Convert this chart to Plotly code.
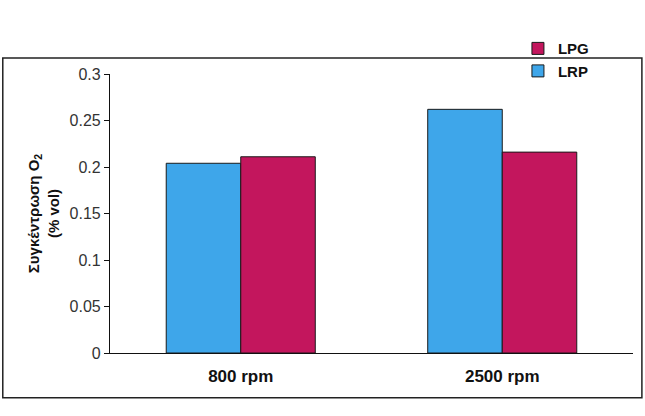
import plotly.graph_objects as go

categories = ["800 rpm", "2500 rpm"]
lrp_values = [0.204, 0.262]
lpg_values = [0.211, 0.216]
y_ticks = [0, 0.05, 0.1, 0.15, 0.2, 0.25, 0.3]
y_tick_text = ["0", "0.05", "0.1", "0.15", "0.2", "0.25", "0.3"]

LRP_COLOR = "#3ea6ea"
LPG_COLOR = "#c3165d"

fig = go.Figure()
fig.add_trace(go.Bar(
    x=categories, y=lrp_values, name="<b>LRP</b>",
    marker=dict(color=LRP_COLOR, line=dict(color="#1a1a1a", width=1)),
))
fig.add_trace(go.Bar(
    x=categories, y=lpg_values, name="<b>LPG</b>",
    marker=dict(color=LPG_COLOR, line=dict(color="#1a1a1a", width=1)),
))

# outer frame around the chart
fig.add_shape(type="rect", xref="paper", yref="paper",
              x0=-0.205, x1=1.017, y0=-0.16, y1=1.057,
              line=dict(color="#222", width=1.5), layer="below")

fig.update_layout(
    width=645, height=416,
    margin=dict(l=110, r=12, t=74, b=63),
    paper_bgcolor="white", plot_bgcolor="white",
    barmode="group", bargap=0.43, bargroupgap=0,
    font=dict(family="Arial, Liberation Sans, sans-serif", color="#222"),
    legend=dict(
        x=0.78, y=1.15, xanchor="left", yanchor="top",
        traceorder="reversed",
        font=dict(size=15, color="#111", family="Arial, Liberation Sans, sans-serif"),
        bgcolor="rgba(0,0,0,0)", itemwidth=30, tracegroupgap=0,
    ),
    showlegend=True,
)
fig.update_xaxes(
    showline=True, linecolor="#111", linewidth=1.2,
    ticks="", showgrid=False,
    tickvals=categories,
    ticktext=["<b>" + c + "</b>" for c in categories],
    tickfont=dict(size=17, color="#111", family="Arial, Liberation Sans, sans-serif"),
    ticklabelstandoff=7,
)
fig.update_yaxes(
    range=[0, 0.3], tickvals=y_ticks, ticktext=y_tick_text,
    showline=True, linecolor="#111", linewidth=1.2,
    ticks="outside", ticklen=5, tickcolor="#111",
    showgrid=False, zeroline=False,
    tickfont=dict(size=16, color="#333"),
    title=dict(text="<b>Συγκέντρωση O<sub>2</sub><br>(% vol)</b>",
               font=dict(size=15, color="#111"), standoff=6),
)

fig.write_html("out.html")
